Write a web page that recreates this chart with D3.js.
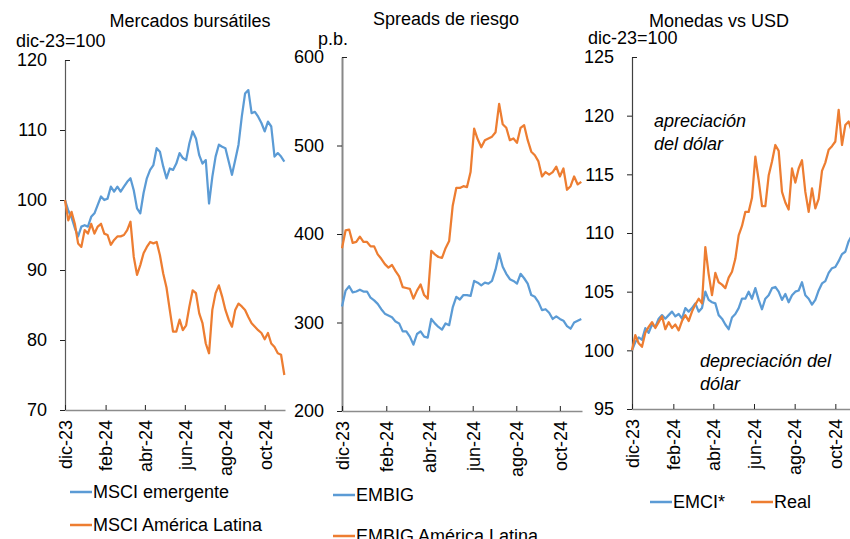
<!DOCTYPE html>
<html>
<head>
<meta charset="utf-8">
<script src="https://cdn.jsdelivr.net/npm/d3@7"></script>
<style>
    body { margin: 0; background: #fff; }
    svg { display: block; font-family: "Liberation Sans", Arial, sans-serif; }
</style>
</head>
<body>
<svg id="chart" width="850" height="539"></svg>
<script>
// fechas: cada 5 dias desde dic-23
var inicio = new Date(2023, 11, 1),
    fin = new Date(2024, 10, 1);
var fechas = d3.range(68).map(function (i) { return d3.timeDay.offset(inicio, 5 * i); });

var tickLabels = ["dic-23", "feb-24", "abr-24", "jun-24", "ago-24", "oct-24"];
var tickDates = [new Date(2023, 11, 1), new Date(2024, 1, 1), new Date(2024, 3, 1),
                 new Date(2024, 5, 1), new Date(2024, 7, 1), new Date(2024, 9, 1)];

// Mercados bursatiles (dic-23=100)
var msciEmergente = [100, 98.5, 97.5, 96, 94.8, 96.2, 96.4, 96.2, 97.6, 98.1,
    99.3, 100.5, 100, 100.2, 101.9, 101.2, 101.9, 101.2, 101.9, 102.6,
    103.1, 101.4, 98.8, 98.1, 101, 103.1, 104.3, 105, 107.4, 106.9,
    104.8, 103.1, 104.5, 104.3, 105.2, 106.7, 106, 105.7, 108.1, 109.8,
    108.8, 106.4, 105.2, 105.7, 99.5, 103.3, 106.2, 107.9, 107.6, 107.4,
    105.5, 103.6, 105.7, 107.9, 111.9, 115.2, 115.7, 112.4, 112.6, 111.9,
    111, 109.8, 111.2, 110.5, 106.2, 106.7, 106.2, 105.5];
var msciLatam = [100, 97.1, 98.3, 96.6, 93.8, 93.3, 95.7, 95.2, 96.6, 95.2,
    96.2, 96.6, 95.2, 95, 93.6, 94.3, 94.8, 94.8, 95, 95.7,
    96.9, 91.9, 89.3, 90.7, 92.4, 93.3, 94, 93.8, 94, 92.1,
    89.5, 87.5, 84.3, 81.2, 81.2, 82.9, 81.4, 82.1, 84.8, 87.1,
    86.7, 83.8, 82.4, 79.5, 78.1, 84.3, 86.7, 87.8, 86.2, 84.3,
    82.9, 81.9, 84.3, 85.2, 84.8, 84.3, 83.3, 82.4, 81.9, 81.4,
    81, 80.1, 81, 79.5, 79, 78.1, 77.9, 75];

// Spreads de riesgo (p.b.)
var embig = [318, 336, 341, 334, 335, 337, 335, 335, 328, 325,
    321, 315, 310, 308, 306, 301, 299, 290, 290, 284,
    275, 287, 290, 284, 283, 304, 299, 295, 292, 299,
    297, 317, 329, 326, 331, 331, 330, 347, 345, 342,
    345, 344, 347, 360, 378, 363, 355, 349, 347, 344,
    355, 350, 344, 331, 329, 323, 314, 315, 311, 304,
    307, 304, 302, 296, 293, 300, 302, 304];
var embigLatam = [384, 404, 405, 390, 391, 397, 391, 391, 386, 386,
    377, 372, 366, 362, 365, 358, 352, 340, 339, 338,
    327, 336, 343, 331, 327, 381, 377, 374, 373, 384,
    392, 432, 452, 452, 454, 453, 470, 519, 507, 498,
    506, 508, 510, 515, 547, 524, 520, 506, 508, 503,
    520, 523, 506, 493, 489, 482, 465, 470, 467, 470,
    476, 465, 474, 450, 454, 465, 456, 459];

// Monedas vs USD (dic-23=100)
var emci = [100, 100.7, 101.1, 100.9, 101.9, 101.5, 102.2, 102, 102.7, 103,
    102.7, 103, 103.3, 102.9, 103.1, 102.7, 103.6, 103.3, 103.6, 104,
    103.3, 103.6, 105, 104.3, 104.1, 104, 103, 102.7, 102.2, 101.8,
    102.8, 103.1, 103.6, 104.4, 104.4, 105, 104.4, 105.3, 104.3, 103.5,
    104.4, 104.7, 105.3, 105.4, 105, 104.3, 104.8, 104.1, 104.7, 105,
    105.1, 105.8, 104.7, 104.4, 103.9, 104.3, 105.1, 105.7, 105.9, 106.6,
    107, 107.1, 107.6, 108.2, 108.4, 109.3, 109.8, 110];
var real = [100, 101.3, 100.6, 100.3, 101.5, 102, 102.4, 101.9, 102.4, 102.9,
    101.8, 102.4, 101.9, 102.2, 101.7, 102.5, 103, 102.5, 103.3, 103.9,
    104.4, 104, 108.8, 106.5, 104.7, 106.6, 105.8, 105.6, 105.3, 106.2,
    106.7, 107.8, 109.8, 110.6, 111.8, 111.8, 113, 116.5, 114.5, 112.3,
    112.3, 114.9, 116.1, 117.5, 117, 113.5, 112.6, 112, 115.5, 114.3,
    115.5, 116.2, 113.5, 111.8, 113.8, 112.1, 112.9, 115.3, 116, 117.1,
    117.4, 117.8, 120.5, 117.5, 119.2, 119.5, 118.6, 119];

var azul = "#5B9BD5",
    naranja = "#ED7D31";

var svg = d3.select("#chart");

function panel(cfg) {
    var x = d3.scaleTime().domain([inicio, fin]).range([cfg.x0, cfg.x1]);
    var y = d3.scaleLinear().domain(cfg.yDomain).range([cfg.yBottom, cfg.yTop]);

    // eje y
    var gy = svg.append("g")
        .attr("transform", "translate(" + cfg.x0 + ",0)")
        .call(d3.axisLeft(y).tickValues(cfg.yTicks).tickSize(5).tickSizeOuter(0).tickPadding(13));
    gy.select(".domain").attr("stroke", cfg.axisColor).attr("stroke-width", cfg.axisWidth);
    gy.selectAll(".tick line").attr("stroke", "#222");
    gy.selectAll(".tick line").filter(function (d) { return d === cfg.yDomain[1]; })
        .attr("x2", 5);
    gy.selectAll(".tick text")
        .attr("font-family", "Liberation Sans, Arial, sans-serif")
        .attr("font-size", 18)
        .attr("fill", "#000");

    // eje x
    var gx = svg.append("g")
        .attr("transform", "translate(0," + cfg.yBottom + ")")
        .call(d3.axisBottom(x).tickValues(tickDates).tickSize(-5).tickSizeOuter(0)
            .tickFormat(function (d, i) { return tickLabels[i]; }));
    gx.select(".domain").attr("stroke", "#8c8c8c").attr("stroke-width", 1.5);
    gx.selectAll(".tick line").attr("stroke", "#222");
    gx.selectAll(".tick text")
        .attr("font-family", "Liberation Sans, Arial, sans-serif")
        .attr("font-size", 18)
        .attr("fill", "#000")
        .attr("transform", "rotate(-90)")
        .attr("text-anchor", "end")
        .attr("x", -10)
        .attr("y", 0)
        .attr("dy", "0.35em");

    var line = d3.line()
        .x(function (d, i) { return x(fechas[i]); })
        .y(function (d) { return y(d); });

    cfg.series.forEach(function (s) {
        svg.append("path")
            .datum(s.values)
            .attr("fill", "none")
            .attr("stroke", s.color)
            .attr("stroke-width", 2.25)
            .attr("stroke-linejoin", "round")
            .attr("d", line);
    });

    svg.append("text")
        .attr("x", cfg.titleX)
        .attr("y", cfg.titleY)
        .attr("text-anchor", "middle")
        .attr("font-size", 18)
        .text(cfg.title);

    svg.append("text")
        .attr("x", cfg.unitX)
        .attr("y", cfg.unitY)
        .attr("font-size", 18)
        .text(cfg.unit);

    // leyenda
    cfg.legend.forEach(function (l) {
        svg.append("line")
            .attr("x1", l.x).attr("x2", l.x + 22)
            .attr("y1", l.y).attr("y2", l.y)
            .attr("stroke", l.color)
            .attr("stroke-width", 2.5);
        svg.append("text")
            .attr("x", l.x + 23)
            .attr("y", l.y + 6)
            .attr("font-size", 18)
            .text(l.label);
    });
}

panel({
    x0: 65, x1: 285, yTop: 60, yBottom: 410,
    yDomain: [70, 120], yTicks: [70, 80, 90, 100, 110, 120],
    axisColor: "#595959", axisWidth: 1.2,
    title: "Mercados bursátiles", titleX: 190, titleY: 27,
    unit: "dic-23=100", unitX: 16, unitY: 47,
    series: [{ values: msciEmergente, color: azul }, { values: msciLatam, color: naranja }],
    legend: [{ x: 70, y: 492, color: azul, label: "MSCI emergente" },
             { x: 70, y: 525, color: naranja, label: "MSCI América Latina" }]
});

panel({
    x0: 342, x1: 582, yTop: 57, yBottom: 411,
    yDomain: [200, 600], yTicks: [200, 300, 400, 500, 600],
    axisColor: "#888888", axisWidth: 2,
    title: "Spreads de riesgo", titleX: 446, titleY: 25,
    unit: "p.b.", unitX: 318, unitY: 45,
    series: [{ values: embig, color: azul }, { values: embigLatam, color: naranja }],
    legend: [{ x: 333, y: 495, color: azul, label: "EMBIG" },
             { x: 333, y: 536, color: naranja, label: "EMBIG América Latina" }]
});

panel({
    x0: 632, x1: 856, yTop: 57, yBottom: 409,
    yDomain: [95, 125], yTicks: [95, 100, 105, 110, 115, 120, 125],
    axisColor: "#404040", axisWidth: 1.2,
    title: "Monedas vs USD", titleX: 719, titleY: 27,
    unit: "dic-23=100", unitX: 588, unitY: 44,
    series: [{ values: emci, color: azul }, { values: real, color: naranja }],
    legend: [{ x: 650, y: 502, color: azul, label: "EMCI*" },
             { x: 751, y: 502, color: naranja, label: "Real" }]
});

// anotaciones
var notas = [
    { x: 654, y: 127, t: "apreciación" },
    { x: 654, y: 150, t: "del dólar" },
    { x: 700, y: 367, t: "depreciación del" },
    { x: 700, y: 390, t: "dólar" }
];
svg.selectAll(".nota")
    .data(notas)
    .enter().append("text")
    .attr("class", "nota")
    .attr("x", function (d) { return d.x; })
    .attr("y", function (d) { return d.y; })
    .attr("font-size", 18)
    .attr("font-style", "italic")
    .text(function (d) { return d.t; });
</script>
</body>
</html>
